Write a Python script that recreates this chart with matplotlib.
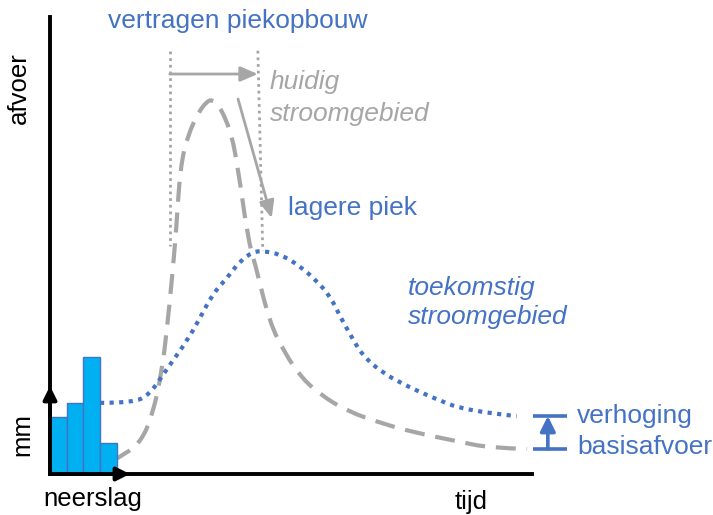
import matplotlib
matplotlib.use('Agg')
import matplotlib.pyplot as plt
from matplotlib.path import Path
from matplotlib.patches import PathPatch

plt.rcParams['font.family'] = ['Liberation Sans', 'DejaVu Sans']

# afvoer (discharge) curves, time vs discharge in arbitrary units
t_huidig = [12.7, 13.7, 18.2, 20.8, 22.6, 23.6, 24.6, 25.5, 26.3, 27.9, 30.9,
            33.3, 36.4, 38.0, 40.0, 41.4, 44.4, 47.5, 50.5, 54.5, 60.0, 67.3,
            74.1, 82.2, 88.9, 96.4]
q_huidig = [2.9, 3.5, 6.6, 13.2, 22.6, 31.4, 42.3, 53.3, 67.1, 74.6, 81.1,
            82.5, 75.9, 67.1, 51.5, 46.3, 33.1, 26.5, 21.5, 17.5, 13.8, 11.0,
            9.0, 7.2, 5.7, 5.5]
t_toekomst = [10.1, 16.8, 20.2, 23.6, 27.7, 30.3, 32.9, 35.8, 38.4, 41.0, 43.0,
              46.5, 50.5, 53.9, 56.6, 58.6, 60.6, 63.2, 67.3, 72.1, 77.4,
              84.2, 94.3]
q_toekomst = [15.6, 15.6, 17.5, 23.0, 29.2, 34.2, 39.5, 43.0, 46.7, 48.7, 48.9,
              48.2, 45.6, 42.3, 39.0, 34.6, 30.7, 25.9, 22.1, 19.3, 16.7,
              13.8, 12.7]

# neerslag (rain) in mm per interval
neerslag = [6.5, 8.1, 13.4, 3.6]

blue = '#4472C4'
grey = '#A6A6A6'
W, H = 713, 515


def fx(px):
    return px / W


def fy(py):
    return 1 - py / H


def smooth_curve(ax, xs, ys, **kw):
    # quadratic bezier through the midpoints, the points act as controls
    pts = list(zip(xs, ys))
    verts = [pts[0]]
    codes = [Path.MOVETO]
    for i in range(1, len(pts) - 1):
        mid = ((pts[i][0] + pts[i + 1][0]) / 2, (pts[i][1] + pts[i + 1][1]) / 2)
        if i == len(pts) - 2:
            mid = pts[-1]
        verts += [pts[i], mid]
        codes += [Path.CURVE3, Path.CURVE3]
    patch = PathPatch(Path(verts, codes), fill=False, clip_on=False, **kw)
    ax.add_patch(patch)


fig = plt.figure(figsize=(W / 100, H / 100), dpi=100)

# main axes: px x 50..532, y 17..474
ax = fig.add_axes([fx(50), fy(474), (532 - 50) / W, (474 - 17) / H])
ax.set_xlim(0, 97.4)
ax.set_ylim(0, 100.2)
for side in ['top', 'right']:
    ax.spines[side].set_visible(False)
for side in ['left', 'bottom']:
    ax.spines[side].set_linewidth(2.8)
    ax.spines[side].set_color('black')
ax.set_xticks([])
ax.set_yticks([])
ax.patch.set_alpha(0)

smooth_curve(ax, t_huidig, q_huidig, edgecolor=grey, lw=3,
             linestyle=(0, (4.8, 2.6)), zorder=3)
smooth_curve(ax, t_toekomst, q_toekomst, edgecolor=blue, lw=3,
             linestyle=(0, (1, 1.3)), zorder=4, capstyle='butt')

# vertical dotted lines at both peaks
t_pk_h = 24.2
t_pk_t = 42.0
ax.plot([t_pk_h, t_pk_h], [92.8, 50.0], color=grey, lw=2, dashes=(1, 1.4))
ax.plot([t_pk_t, 43.0], [92.8, max(q_toekomst)], color=grey, lw=2,
        dashes=(1, 1.4))

arrow_kw = dict(arrowstyle='-|>,head_length=0.7,head_width=0.3',
                color=grey, lw=2, mutation_scale=15, shrinkA=0, shrinkB=0)
ax.annotate('', xy=(t_pk_t, 87.7), xytext=(t_pk_h, 87.7),
            arrowprops=arrow_kw)
ax.annotate('', xy=(44.8, 56.1), xytext=(38.0, 82.2), arrowprops=arrow_kw)

# verhoging basisafvoer marker
x_m = 100.6
ax.plot([97.6, 104.4], [q_toekomst[-1]] * 2, color=blue, lw=2.6,
        clip_on=False, solid_capstyle='butt')
ax.plot([97.6, 104.4], [q_huidig[-1]] * 2, color=blue, lw=2.6,
        clip_on=False, solid_capstyle='butt')
ax.annotate('', xy=(x_m, q_toekomst[-1]), xytext=(x_m, q_huidig[-1]),
            annotation_clip=False,
            arrowprops=dict(arrowstyle='-|>,head_length=0.6,head_width=0.3',
                            color=blue, lw=2.6, mutation_scale=15,
                            shrinkA=0, shrinkB=0))

# rain axes: px x 50..130, y 343..474
rax = fig.add_axes([fx(50), fy(474), 80 / W, 131 / H])
rax.set_xlim(-0.5, 4.28)
rax.set_ylim(0, 15)
rax.axis('off')
rax.bar(range(len(neerslag)), neerslag, width=1, color='#00B0F0',
        edgecolor=blue, lw=1, clip_on=False, zorder=2)
head = dict(arrowstyle='-|>,head_length=0.5,head_width=0.25', color='black',
            lw=2.8, mutation_scale=16, shrinkA=0, shrinkB=0)
rax.annotate('', xy=(0, 88 / 131), xytext=(0, 0), xycoords='axes fraction',
             textcoords='axes fraction', arrowprops=head)
rax.annotate('', xy=(1, 0), xytext=(0, 0), xycoords='axes fraction',
             textcoords='axes fraction', arrowprops=head)

fs = 19
fig.text(fx(108), fy(28), 'vertragen piekopbouw', color=blue, fontsize=fs,
         va='baseline')
fig.text(fx(270), fy(89), 'huidig', color=grey, fontsize=fs, style='italic',
         va='baseline')
fig.text(fx(270), fy(121), 'stroomgebied', color=grey, fontsize=fs,
         style='italic', va='baseline')
fig.text(fx(288), fy(215), 'lagere piek', color=blue, fontsize=fs,
         va='baseline')
fig.text(fx(408), fy(295), 'toekomstig', color=blue, fontsize=fs,
         style='italic', va='baseline')
fig.text(fx(408), fy(324), 'stroomgebied', color=blue, fontsize=fs,
         style='italic', va='baseline')
fig.text(fx(577), fy(423), 'verhoging', color=blue, fontsize=fs,
         va='baseline')
fig.text(fx(577), fy(454), 'basisafvoer', color=blue, fontsize=fs,
         va='baseline')
fig.text(fx(43), fy(506), 'neerslag', fontsize=18.5, va='baseline')
fig.text(fx(455), fy(509), 'tijd', fontsize=18.5, va='baseline')
fig.text(fx(19), fy(88), 'afvoer', fontsize=18.5, rotation=90,
         ha='center', va='center')
fig.text(fx(22), fy(434), 'mm', fontsize=18.5, rotation=90,
         ha='center', va='center')

fig.savefig('out.png', dpi=100)
